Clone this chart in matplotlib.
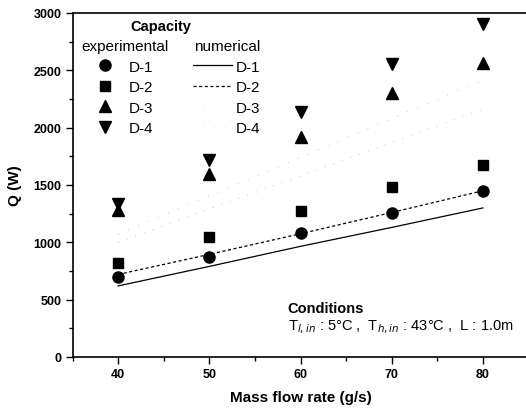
import matplotlib
matplotlib.use("Agg")
import matplotlib.pyplot as plt
from matplotlib.ticker import MultipleLocator
from matplotlib.lines import Line2D

plt.rcParams["font.family"] = ["Liberation Sans", "DejaVu Sans"]

# mass flow rate (g/s)
flow = [40, 50, 60, 70, 80]

# experimental capacity (W)
exp_d1 = [700, 875, 1080, 1258, 1450]
exp_d2 = [822, 1045, 1272, 1483, 1676]
exp_d3 = [1278, 1596, 1916, 2302, 2562]
exp_d4 = [1336, 1718, 2136, 2556, 2904]

# numerical capacity (W)
num_d1 = [620, 790, 965, 1130, 1300]
num_d2 = [720, 895, 1075, 1260, 1450]
num_d3 = [1000, 1290, 1580, 1870, 2160]
num_d4 = [1070, 1405, 1740, 2080, 2415]

labels = ["D-1", "D-2", "D-3", "D-4"]

fig = plt.figure(figsize=(5.26, 4.14), dpi=100, facecolor="white")
ax = fig.add_axes([72.5 / 526, 56 / 414, 456 / 526, 344 / 414])

mk = {"D-1": ("o", 8), "D-2": ("s", 7), "D-3": ("^", 8.5), "D-4": ("v", 8.5)}
for lab, ys in zip(labels, [exp_d1, exp_d2, exp_d3, exp_d4]):
    m, s = mk[lab]
    ax.plot(flow, ys, ls="none", marker=m, ms=s, color="black", zorder=3)

ax.plot(flow, num_d1, color="black", lw=0.9)
ax.plot(flow, num_d2, color="black", lw=0.9, ls=(0, (2.5, 2)))
ax.plot(flow, num_d3, color="#aaaaaa", lw=0.6, ls=(0, (1, 10)))
ax.plot(flow, num_d4, color="#aaaaaa", lw=0.6, ls=(0, (1, 12)))

ax.set_xlim(35, 85)
ax.set_ylim(0, 3000)
ax.xaxis.set_major_locator(MultipleLocator(10))
ax.xaxis.set_minor_locator(MultipleLocator(5))
ax.yaxis.set_major_locator(MultipleLocator(500))
ax.yaxis.set_minor_locator(MultipleLocator(250))
ax.tick_params(which="both", direction="out", width=1, top=False, right=False)
ax.tick_params(which="major", length=5)
ax.tick_params(which="minor", length=3)
ax.tick_params(axis="x", labelsize=9, pad=3)
ax.tick_params(axis="y", labelsize=9, pad=3)
for tl in ax.get_xticklabels() + ax.get_yticklabels():
    tl.set_fontweight("bold")
for sp in ["left", "bottom", "top"]:
    ax.spines[sp].set_linewidth(1.2)
ax.spines["right"].set_visible(False)

ax.set_xlabel("Mass flow rate (g/s)", fontsize=11, fontweight="bold", labelpad=7)
ax.set_ylabel("Q (W)", fontsize=11, fontweight="bold", labelpad=8)

# legends
exp_handles = [Line2D([], [], ls="none", marker=mk[l][0], ms=mk[l][1], color="black")
               for l in labels]
num_handles = [Line2D([], [], color="black", lw=0.9),
               Line2D([], [], color="black", lw=0.9, ls=(0, (2.5, 2))),
               Line2D([], [], color="#cccccc", lw=0.5, ls=(0, (1, 14))),
               Line2D([], [], color="#cccccc", lw=0.5, ls=(0, (1, 14)))]

leg1 = ax.legend(exp_handles, labels, title="experimental", loc="upper left",
                 bbox_to_anchor=(0.0, 0.95), frameon=False, fontsize=11,
                 title_fontsize=11, handlelength=1.0, handletextpad=1.0,
                 labelspacing=0.42, borderaxespad=0.2)
ax.add_artist(leg1)
ax.legend(num_handles, labels, title="numerical", loc="upper left",
          bbox_to_anchor=(0.245, 0.95), frameon=False, fontsize=11,
          title_fontsize=11, handlelength=2.5, handletextpad=0.3,
          labelspacing=0.42, borderaxespad=0.2)
ax.text(0.193, 0.963, "Capacity", transform=ax.transAxes, fontsize=10.5,
        fontweight="bold", ha="center", va="center")

ax.text(0.472, 0.142, "Conditions", transform=ax.transAxes, fontsize=10.5,
        fontweight="bold", ha="left", va="center")
ax.text(0.472, 0.090,
        r"T$_{l,in}$ : 5°C ,  T$_{h,in}$ : 43°C ,  L : 1.0m",
        transform=ax.transAxes, fontsize=10.5, ha="left", va="center")

fig.savefig("out.png", dpi=100, facecolor="white")
